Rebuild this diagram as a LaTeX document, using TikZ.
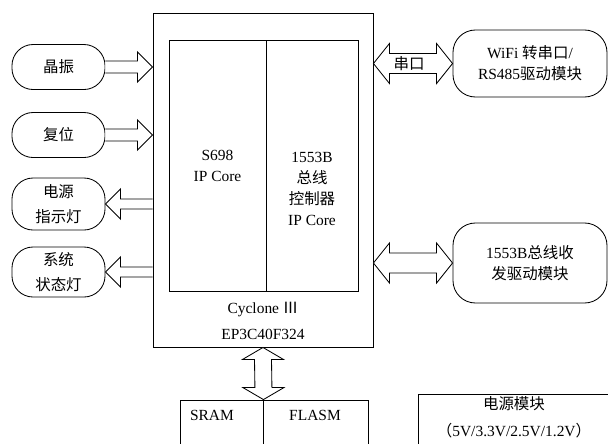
\documentclass[tikz,border=0pt]{standalone}
\usepackage{fontspec}
\setmainfont{Liberation Serif}
\newfontfamily\cjk{Noto Sans CJK SC}
\usetikzlibrary{positioning, calc}

% hollow block arrows, sizes in px of the picture grid
\newcommand{\arrowin}[2]{% shaft from #1, tip at #2
  \draw[blk] ($(#1)+(0,6)$) -- ($(#2)+(-15,6)$) -- ($(#2)+(-15,15)$) -- (#2)
    -- ($(#2)+(-15,-15)$) -- ($(#2)+(-15,-6)$) -- ($(#1)+(0,-6)$);}
\newcommand{\arrowout}[2]{% tip at #1, shaft from #2
  \draw[blk] ($(#2)+(0,5)$) -- ($(#1)+(15,5)$) -- ($(#1)+(15,15)$) -- (#1)
    -- ($(#1)+(15,-15)$) -- ($(#1)+(15,-5)$) -- ($(#2)+(0,-5)$);}
\newcommand{\dblarrowh}[2]{% left tip #1, right tip #2
  \draw[blk] (#1) -- ($(#1)+(16,-20)$) -- ($(#1)+(16,-10)$) -- ($(#2)+(-16,-10)$)
    -- ($(#2)+(-16,-20)$) -- (#2) -- ($(#2)+(-16,20)$) -- ($(#2)+(-16,10)$)
    -- ($(#1)+(16,10)$) -- ($(#1)+(16,20)$) -- cycle;}
\newcommand{\dblarrowv}[2]{% top tip #1, bottom tip #2
  \draw[blk] (#1) -- ($(#1)+(-20.5,12)$) -- ($(#1)+(-8.5,12)$) -- ($(#2)+(-8.5,-12)$)
    -- ($(#2)+(-20.5,-12)$) -- (#2) -- ($(#2)+(20.5,-12)$) -- ($(#2)+(8.5,-12)$)
    -- ($(#1)+(8.5,12)$) -- ($(#1)+(20.5,12)$) -- cycle;}

\begin{document}
\begin{tikzpicture}[
  x=0.025cm, y=-0.025cm,
  box/.style  = {draw, line width=0.6pt, inner sep=0pt},
  pill/.style = {draw, line width=0.6pt, rounded corners=15pt, align=center,
                 minimum width=2.325cm, font=\cjk\fontsize{11}{17.5}\selectfont},
  rpill/.style= {draw, line width=0.6pt, rounded corners=16pt, align=center,
                 minimum width=3.85cm, font=\fontsize{11}{15}\selectfont},
  txt/.style  = {align=center, inner sep=0pt, font=\fontsize{11}{15}\selectfont},
  blk/.style  = {draw, line width=0.6pt, fill=white, line join=miter},
]
\useasboundingbox (0,0) rectangle (608,443);
\clip (0,0) rectangle (608,443);

% ── FPGA with the two IP cores ────────────────────────────────────────────────
\node[box, minimum width=5.5cm, minimum height=8.35cm] (fpga) at (263,180) {};
\node[box, minimum width=2.425cm, minimum height=6.275cm] (core1) at (217.5,165.5) {};
\node[box, minimum width=2.3cm, minimum height=6.275cm, right=0pt of core1] (core2) {};
\node[txt] (s698) at (core1) {S698\\IP Core};
\node[txt] (bc) at (312,189) {1553B\\{\cjk 总线}\\{\cjk 控制器}\\IP Core};
\node[txt, font=\fontsize{11}{19}\selectfont] (chip) at (263,321)
  {Cyclone {\cjk Ⅲ}\\EP3C40F324};

% ── Left side ─────────────────────────────────────────────────────────────────
\node[pill, minimum height=1.125cm] (xtal)   at (58.5,67)  {晶振};
\node[pill, minimum height=1.125cm] (rst)    at (58.5,135) {复位};
\node[pill, minimum height=1.3cm]   (pwrled) at (58.5,204) {电源\\指示灯};
\node[pill, minimum height=1.25cm]  (sysled) at (58.5,272) {系统\\状态灯};

% ── Right side ────────────────────────────────────────────────────────────────
\node[rpill, minimum height=1.675cm] (wifi) at (530,63.5)
  {WiFi {\cjk 转串口}/\\RS485{\cjk 驱动模块}};
\node[rpill, minimum height=2cm] (xcvr) at (530,263)
  {1553B{\cjk 总线收}\\{\cjk 发驱动模块}};

% ── Memory and power ──────────────────────────────────────────────────────────
\node[box, minimum width=2.075cm, minimum height=1.5cm] (sram) at (221.5,430) {};
\node[box, minimum width=2.625cm, minimum height=1.5cm, right=0pt of sram] (flash) {};
\node[txt] (sramtxt) at (212,415) {SRAM};
\node[txt] (flashtxt) at (315,415) {FLASM};
\node[box, minimum width=4.8cm, minimum height=1.55cm] (power) at (514,425) {};
\node[txt, font=\fontsize{11}{19.5}\selectfont] (powertxt) at (514,417.5)
  {{\cjk 电源模块}\\{\cjk （}5V/3.3V/2.5V/1.2V{\cjk ）}};

% ── Block arrows ──────────────────────────────────────────────────────────────
\arrowin{xtal.east}{fpga.west |- xtal.east}
\arrowin{rst.east}{fpga.west |- rst.east}
\arrowout{pwrled.east}{fpga.west |- pwrled.east}
\arrowout{sysled.east}{fpga.west |- sysled.east}
\dblarrowh{fpga.east |- wifi.west}{wifi.west}
\dblarrowh{fpga.east |- xcvr.west}{xcvr.west}
\dblarrowv{fpga.south}{sram.north east}

\node[txt, font=\cjk\fontsize{11}{15}\selectfont] (serial)
  at ($(fpga.east |- wifi.west)!0.45!(wifi.west)$) {串口};

\end{tikzpicture}
\end{document}
